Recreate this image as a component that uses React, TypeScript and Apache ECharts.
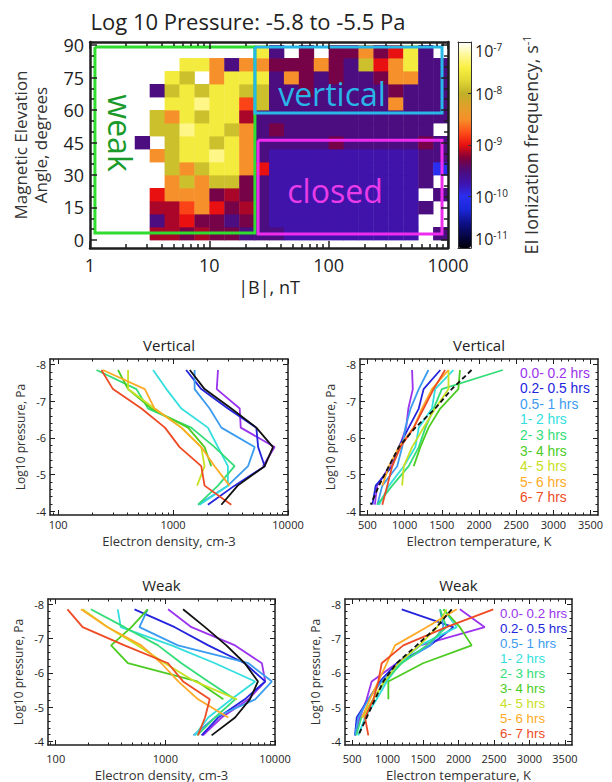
import React, { useEffect, useRef } from 'react';
import * as echarts from 'echarts';

const W = 612;
const H = 782;
const FONT = "'Open Sans', 'DejaVu Sans', sans-serif";
const LEGEND_FONT = "'Liberation Sans', 'Open Sans', sans-serif";
const INK = '#1e1e1e';

// ---------- top heat map ----------
const HEAT_TITLE = 'Log 10 Pressure: -5.8 to -5.5 Pa';
const B_TICKS = [1, 10, 100, 1000];
const ANGLE_TICKS = [0, 15, 30, 45, 60, 75, 90];
const CBAR_TICKS = [1e-11, 1e-10, 1e-9, 1e-8, 1e-7];

// |B| bins: log10 lower edge of first bin, bin width (log10); angle bin width (deg)
const B_BIN_LOG0 = 0.375;
const B_BIN_LOGW = 0.125;
const ANGLE_BIN = 6;

// log10 of EI ionization frequency for each colour code
const FREQ_LEVEL = {
  U: -10.0, B: -9.72, P: -9.52, M: -9.3, D: -9.15, R: -9.0,
  E: -8.8, A: -8.5, O: -7.9, Y: -7.55, L: -7.3,
};

// rows: 0-6 deg (first) ... 84-90 deg (last); columns: |B| bins ('.' = no data)
const HEAT_ROWS = [
  '.DDMDMMP' + 'PPBBBBBBBBB.P',
  '.PDRMMPM' + 'PBBBBBBBBBB..',
  '.DDEARMD' + 'PBBBBBBBBBBP.',
  '.RAAAMDM' + 'PBBBBBBBBBB.P',
  '..AOAOOM' + 'PBBBBBBBBBBP.',
  '..OAOYYA' + 'RBBBBBBBBBBPU',
  '.AOYYLYA' + 'PBBBBBBBBBBPP',
  'P.OYYOYA' + 'PPPPPMPPPPPMP',
  '.OOLYYOA' + 'PMPPPPPPPPPP.',
  '.OAYOYYD' + 'PPPPPPPPPPPPP',
  '..YYLYYE' + 'OPPPPPPPPAPPP',
  '.POYOYYO' + 'OPPMPPPPPMPPP',
  '..YO.AYY' + 'YPAMPMPPMAAPP',
  '...YYAPA' + 'AMMMAMPORAYPP',
  '........' + 'YP.M.MMAMRYP.',
];

const CMAP = [
  '#000008', '#06064a', '#0e108c', '#1a28d8', '#2a2ef0', '#3e14b0', '#4c0c7c',
  '#80003a', '#e81010', '#ff5018', '#f5902a', '#e0a02a', '#c0b028', '#e0d834',
  '#f8f040', '#fff898', '#ffffff',
];

// region boxes in data coords [|B| from, angle top, |B| to, angle bottom]
const REGION_WEAK = [1.1, 89.1, 24.1, 3.2];
const REGION_VERTICAL = [24.1, 89.1, 891, 58.6];
const REGION_CLOSED = [25.6, 46.1, 891, 2.8];

// ---------- profile panels ----------
const PRESSURE = [-7.85, -7.33, -6.8, -6.28, -5.75, -5.23, -4.7, -4.18];
const PRESSURE_TICKS = [-8, -7, -6, -5, -4];
const DENSITY_TICKS = [100, 1000, 10000];
const TEMP_TICKS = [500, 1000, 1500, 2000, 2500, 3000, 3500];

const GROUPS = ['0.0- 0.2 hrs', '0.2- 0.5 hrs', '0.5- 1 hrs', '1- 2 hrs', '2- 3 hrs', '3- 4 hrs', '4- 5 hrs', '5- 6 hrs', '6- 7 hrs'];
const GROUP_COLORS = ['#9b33ee', '#2424dd', '#3b9bef', '#33dede', '#33dd77', '#4ccc22', '#c8e024', '#ffaa26', '#ee4a24'];
const MEAN_COLOR = '#111111';

const VERT_DENSITY = [
  [2460, 2400, 3800, 3880, 7650, 6050, null, null],
  [1300, 1760, 3000, 5300, 5500, 6270, 3430, 2010],
  [1540, 1540, 2080, 2630, 5130, 4490, 3000, 1650],
  [670, 875, 1180, 2010, 2460, 3000, 3000, 1700],
  [216, 480, 607, 1440, 2300, 3430, 2460, 1650],
  [332, 406, 649, 1350, 1880, 2150, null, null],
  [406, 406, 690, 1180, 1760, 1880, 1620, null],
  [245, 568, 690, 1180, 1760, 2300, 3100, null],
  [238, 300, 531, 850, 1140, 1760, 1880, 3210],
];
const VERT_DENSITY_MEAN = [1400, 1880, 3210, 5300, 7400, 6270, 3650, 2630];

const VERT_TEMP = [
  [1100, 1110, 1050, 1020, 930, 800, 630, 600],
  [1480, 1255, 1190, 1055, 920, 833, 611, 567],
  [1320, 1190, 1080, 1010, 967, 900, 700, 633],
  [1655, 1410, 1367, 1190, 1144, 989, 789, 655],
  [2320, 1500, 1390, 1280, 1190, 1055, 833, 633],
  [1744, 1722, 1478, 1322, 1211, 1122, null, null],
  [1590, 1590, 1411, 1255, 1100, 989, 967, null],
  [1590, 1367, 1233, 1122, 922, 789, 700, null],
  [1544, 1389, 1255, 1122, 944, 833, 767, 700],
];
const VERT_TEMP_MEAN = [1900, 1633, 1411, 1144, 922, 789, 655, 544];

const WEAK_DENSITY = [
  [1058, 1730, 4325, 7593, 8146, 5730, 3264, 2200],
  [523, 1218, 2463, 5300, 8146, 5300, 3030, 2140],
  [690, 580, 1300, 5730, 9377, 6600, 2835, 1800],
  [368, 392, 1140, 2835, 6600, 4000, 2460, 1858],
  [209, 424, 857, 1402, 2463, 4325, 2835, 1950],
  [690, 490, 320, 455, 1950, 3380, null, null],
  [176, 298, 560, 990, 1858, 4500, null, null],
  [170, 298, 603, 919, 1310, 1987, 3757, null],
  [128, 176, 424, 1058, 1450, 2540, 2300, 1980],
];
const WEAK_DENSITY_MEAN = [1450, 2300, 3600, 5300, 7000, 5900, 4325, 2640];

const WEAK_TEMP = [
  [2020, 2370, 1460, 1130, 776, 705, 610, 540],
  [1199, 1928, 1600, 1128, 893, 729, 565, 541],
  [1740, 1787, 1600, 1175, 917, 729, 588, 541],
  [1787, 1975, 1457, 1175, 990, 847, 682, 588],
  [1740, 1830, 1550, 1200, 960, 800, 630, 560],
  [1787, 2020, 2186, 1500, 1011, 1011, null, null],
  [1830, 1700, 1450, 1150, 950, 800, 650, null],
  [1975, 1550, 1105, 990, 870, 750, 640, null],
  [2490, 1830, 1222, 917, 870, 800, 682, 729],
];
const WEAK_TEMP_MEAN = [1904, 1692, 1410, 1128, 940, 823, 705, 588];

// ---------- helpers (tick geometry only) ----------
function logMinor(lo, hi, min, max) {
  const out = [];
  for (let d = lo; d < hi; d *= 10) for (let k = 2; k <= 9; k++) {
    const v = d * k;
    if (v > min && v < max) out.push(v);
  }
  return out;
}
function linMinor(min, max, step, major) {
  const out = [];
  const n0 = Math.ceil(min / step), n1 = Math.floor(max / step);
  for (let i = n0; i <= n1; i++) {
    const v = Math.round(i * step * 1000) / 1000;
    if (v <= min || v >= max) continue;
    if (Math.abs(v / major - Math.round(v / major)) < 1e-6) continue;
    out.push(v);
  }
  return out;
}

function addFrameAxes(list, gridIndex, pos, s) {
  const base = {
    gridIndex, type: s.type, min: s.min, max: s.max, inverse: !!s.inverse, z: 10, silent: true,
    splitLine: { show: false }, splitArea: { show: false }, minorTick: { show: false },
    axisPointer: { show: false },
  };
  const lineOn = { show: true, onZero: false, lineStyle: { color: INK, width: s.lw } };
  const lineOff = { show: false, onZero: false };
  const tick = (vals, len) => ({ show: true, inside: true, length: len, customValues: vals, lineStyle: { color: INK, width: s.tickW || 1 } });
  const idx = list.length;
  list.push({
    ...base, position: pos[0], axisLine: lineOn, axisTick: tick(s.major, s.majorLen),
    axisLabel: { show: true, customValues: s.major, color: INK, fontFamily: FONT, ...s.label },
    ...(s.name || {}),
  });
  list.push({ ...base, position: pos[0], axisLine: lineOff, axisTick: tick(s.minor, s.minorLen), axisLabel: { show: false } });
  list.push({ ...base, position: pos[1], axisLine: lineOn, axisTick: tick(s.major, s.majorLen), axisLabel: { show: false } });
  list.push({ ...base, position: pos[1], axisLine: lineOff, axisTick: tick(s.minor, s.minorLen), axisLabel: { show: false } });
  return idx;
}

function profileSeries(values, xi, yi, color, name, dashed) {
  const data = [];
  PRESSURE.forEach((p, i) => { if (values[i] != null) data.push([values[i], p]); });
  return {
    type: 'line', name, xAxisIndex: xi, yAxisIndex: yi, data, showSymbol: false, symbol: 'none',
    silent: true, z: 3, clip: true,
    lineStyle: { color, width: 1.8, type: dashed ? [5, 3] : 'solid' }, itemStyle: { color },
  };
}

function boxSeries(rg, color, xi, yi, name) {
  return {
    type: 'line', name, xAxisIndex: xi, yAxisIndex: yi, showSymbol: false, symbol: 'none',
    silent: true, z: 6, clip: false,
    data: [[rg[0], rg[1]], [rg[2], rg[1]], [rg[2], rg[3]], [rg[0], rg[3]], [rg[0], rg[1]]],
    lineStyle: { color, width: 3, join: 'miter' }, itemStyle: { color },
  };
}

function text(x, y, str, size, color, extra) {
  const { rotation, ...style } = extra || {};
  return {
    type: 'text', x, y, z: 100, silent: true,
    ...(rotation != null ? { rotation } : {}),
    style: { text: str, fontSize: size, fontFamily: FONT, fill: color, align: 'center', verticalAlign: 'middle', ...style },
  };
}

function buildOption() {
  const xAxes = [];
  const yAxes = [];
  const series = [];
  const graphic = [];

  const grids = [
    { left: 90, top: 42, width: 358, height: 206 },
    { left: 458, top: 42, width: 13, height: 206 },
    { left: 50, top: 359, width: 238, height: 156 },
    { left: 360, top: 359, width: 238, height: 156 },
    { left: 48, top: 599, width: 227, height: 146 },
    { left: 345, top: 599, width: 227, height: 146 },
  ];

  // ----- heat map axes -----
  const hx = addFrameAxes(xAxes, 0, ['bottom', 'top'], {
    type: 'log', min: 1, max: 1000, major: B_TICKS, minor: logMinor(1, 1000, 1, 1000),
    label: { fontSize: 18, margin: 8, formatter: (v) => String(v) },
    name: { name: '|B|, nT', nameLocation: 'middle', nameGap: 30, nameTextStyle: { fontSize: 18, color: INK, fontFamily: FONT } },
    lw: 2.5, majorLen: 7, minorLen: 4, tickW: 1.5,
  });
  const hy = addFrameAxes(yAxes, 0, ['left', 'right'], {
    type: 'value', min: -3.7, max: 91.4, major: ANGLE_TICKS, minor: linMinor(-3.7, 91.4, 5, 15),
    label: { fontSize: 18, margin: 6, formatter: (v) => String(v) },
    name: {
      name: 'Magnetic Elevation\nAngle, degrees', nameLocation: 'middle', nameGap: 40, nameRotate: 90,
      nameTextStyle: { fontSize: 17, lineHeight: 20, color: '#333', fontFamily: FONT },
    },
    lw: 2.5, majorLen: 7, minorLen: 4, tickW: 1.5,
  });

  const heatData = [];
  HEAT_ROWS.forEach((row, r) => {
    for (let c = 0; c < row.length; c++) {
      const ch = row[c];
      if (ch === '.') continue;
      heatData.push([
        Math.pow(10, B_BIN_LOG0 + B_BIN_LOGW * c),
        Math.pow(10, B_BIN_LOG0 + B_BIN_LOGW * (c + 1)),
        r * ANGLE_BIN, (r + 1) * ANGLE_BIN, FREQ_LEVEL[ch],
      ]);
    }
  });

  series.push({
    type: 'custom', name: 'EI ionization frequency', xAxisIndex: hx, yAxisIndex: hy, data: heatData,
    encode: { x: [0, 1], y: [2, 3] }, clip: true, silent: true, z: 2,
    renderItem: (params, api) => {
      const p0 = api.coord([api.value(0), api.value(3)]);
      const p1 = api.coord([api.value(1), api.value(2)]);
      return {
        type: 'rect',
        shape: { x: p0[0], y: p0[1], width: p1[0] - p0[0] + 0.4, height: p1[1] - p0[1] + 0.4 },
        style: { fill: api.visual('color') },
      };
    },
  });
  series.push(boxSeries(REGION_WEAK, '#2fdc2f', hx, hy, 'weak region'));
  series.push(boxSeries(REGION_VERTICAL, '#28b8e8', hx, hy, 'vertical region'));
  series.push(boxSeries(REGION_CLOSED, '#ee2cee', hx, hy, 'closed region'));

  // ----- colour bar axes -----
  const cbLine = { show: true, onZero: false, lineStyle: { color: '#333', width: 1 } };
  xAxes.push({ gridIndex: 1, type: 'value', min: 0, max: 1, position: 'bottom', z: 10, axisLine: cbLine, axisTick: { show: false }, axisLabel: { show: false }, splitLine: { show: false } });
  xAxes.push({ gridIndex: 1, type: 'value', min: 0, max: 1, position: 'top', z: 10, axisLine: cbLine, axisTick: { show: false }, axisLabel: { show: false }, splitLine: { show: false } });
  yAxes.push({ gridIndex: 1, type: 'log', min: 1e-11, max: 1e-7, position: 'left', z: 10, axisLine: cbLine, axisTick: { show: false }, axisLabel: { show: false }, splitLine: { show: false } });
  yAxes.push({
    gridIndex: 1, type: 'log', min: 1e-11, max: 1e-7, position: 'right', z: 10, axisLine: cbLine,
    splitLine: { show: false },
    axisTick: { show: true, inside: true, length: 3, customValues: CBAR_TICKS, lineStyle: { color: '#333' } },
    axisLabel: {
      show: true, customValues: CBAR_TICKS, margin: 4,
      verticalAlignMinLabel: 'bottom', verticalAlignMaxLabel: 'top',
      formatter: (v) => `{b|10}{s|${Math.round(Math.log10(v))}}`,
      rich: {
        b: { fontSize: 16, lineHeight: 18, fontFamily: FONT, color: INK },
        s: { fontSize: 10, lineHeight: 11, verticalAlign: 'top', fontFamily: FONT, color: INK },
      },
    },
    name: 'EI Ionization frequency, s{s|-1}', nameLocation: 'middle', nameGap: 50, nameRotate: 90,
    nameTextStyle: {
      fontSize: 18, lineHeight: 20, color: '#333', fontFamily: FONT,
      rich: { s: { fontSize: 11, lineHeight: 11, verticalAlign: 'top', fontFamily: FONT, color: '#333' } },
    },
  });

  // ----- profile panels -----
  const panels = [
    { grid: 2, kind: 'density', data: VERT_DENSITY, mean: VERT_DENSITY_MEAN, title: 'Vertical', labelMargin: 4, nameGap: 19 },
    { grid: 3, kind: 'temp', data: VERT_TEMP, mean: VERT_TEMP_MEAN, title: 'Vertical', labelMargin: 4, nameGap: 19 },
    { grid: 4, kind: 'density', data: WEAK_DENSITY, mean: WEAK_DENSITY_MEAN, title: 'Weak', labelMargin: 8, nameGap: 23 },
    { grid: 5, kind: 'temp', data: WEAK_TEMP, mean: WEAK_TEMP_MEAN, title: 'Weak', labelMargin: 8, nameGap: 23 },
  ];

  panels.forEach((pn) => {
    const isD = pn.kind === 'density';
    const xi = addFrameAxes(xAxes, pn.grid, ['bottom', 'top'], {
      type: isD ? 'log' : 'value',
      min: isD ? 85 : 400, max: isD ? 10000 : 3600,
      major: isD ? DENSITY_TICKS : TEMP_TICKS,
      minor: isD ? logMinor(10, 10000, 85, 10000) : linMinor(400, 3600, 100, 500),
      label: { fontSize: 11, margin: pn.labelMargin, formatter: (v) => String(v) },
      name: {
        name: isD ? 'Electron density, cm-3' : 'Electron temperature, K', nameLocation: 'middle', nameGap: pn.nameGap,
        nameTextStyle: { fontSize: 13, color: '#333', fontFamily: FONT },
      },
      lw: 1.5, majorLen: 5, minorLen: 2.5, tickW: 1,
    });
    const yi = addFrameAxes(yAxes, pn.grid, ['left', 'right'], {
      type: 'value', min: -8.15, max: -3.9, inverse: true,
      major: PRESSURE_TICKS, minor: linMinor(-8.15, -3.9, 0.2, 1),
      label: { fontSize: 11, margin: 4, formatter: (v) => String(v) },
      name: {
        name: 'Log10 pressure, Pa', nameLocation: 'middle', nameGap: 24, nameRotate: 90,
        nameTextStyle: { fontSize: 12, color: '#333', fontFamily: FONT },
      },
      lw: 1.5, majorLen: 5, minorLen: 2.5, tickW: 1,
    });
    pn.data.forEach((vals, g) => series.push(profileSeries(vals, xi, yi, GROUP_COLORS[g], GROUPS[g], false)));
    series.push(profileSeries(pn.mean, xi, yi, MEAN_COLOR, 'all', !isD));

    const gr = grids[pn.grid];
    graphic.push(text(gr.left + gr.width / 2, gr.top - 14, pn.title, 15, '#222'));
  });

  // legends (text only, coloured)
  const legends = [
    { x: 520, y: 373, dy: 15.6, size: 13.8 },
    { x: 500, y: 613, dy: 15.0, size: 13.3 },
  ];
  legends.forEach((lg) => {
    GROUPS.forEach((g, i) => {
      graphic.push(text(lg.x, lg.y + i * lg.dy, g, lg.size, GROUP_COLORS[i], { align: 'left', lineHeight: lg.size, fontFamily: LEGEND_FONT }));
    });
  });

  // heat-map title and region labels
  graphic.push(text(248, 21, HEAT_TITLE, 22, '#222'));
  graphic.push(text(120, 133, 'weak', 32, '#1a9a2a', { rotation: -Math.PI / 2 }));
  graphic.push(text(332, 93, 'vertical', 32, '#2ab5e8'));
  graphic.push(text(335, 190, 'closed', 32, '#e83ce8'));

  return {
    animation: false,
    backgroundColor: '#ffffff',
    textStyle: { fontFamily: FONT },
    grid: grids.map((g) => ({ ...g, containLabel: false, show: false })),
    xAxis: xAxes,
    yAxis: yAxes,
    visualMap: {
      type: 'continuous', min: -11, max: -7, dimension: 4, seriesIndex: 0,
      inRange: { color: CMAP }, orient: 'vertical',
      left: 458, top: 42, itemWidth: 13, itemHeight: 206, padding: 0,
      calculable: false, realtime: false, hoverLink: false, z: 4,
    },
    series,
    graphic: { elements: graphic },
  };
}

export default function App() {
  const ref = useRef(null);
  useEffect(() => {
    if (!ref.current) return undefined;
    const chart = echarts.init(ref.current, null, { renderer: 'svg' });
    chart.setOption(buildOption());
    return () => chart.dispose();
  }, []);
  return (
    <div
      ref={ref}
      style={{ position: 'fixed', left: 0, top: 0, width: W, height: H, background: '#fff' }}
    />
  );
}
